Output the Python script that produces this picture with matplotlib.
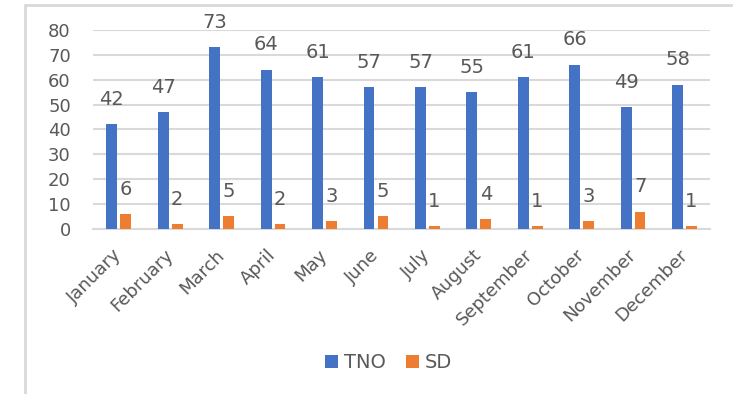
import numpy as np
import matplotlib.pyplot as plt
from matplotlib.patches import Rectangle
from matplotlib.transforms import ScaledTranslation

months = ["January", "February", "March", "April", "May", "June", "July",
          "August", "September", "October", "November", "December"]
tno = [42, 47, 73, 64, 61, 57, 57, 55, 61, 66, 49, 58]
sd = [6, 2, 5, 2, 3, 5, 1, 4, 1, 3, 7, 1]

blue = "#4472C4"
orange = "#ED7D31"
txt = "#595959"
grid = "#D9D9D9"

fig = plt.figure(figsize=(7.33, 3.94), dpi=100)
ax = fig.add_axes([0.127, 0.419, 0.842, 0.505])

x = np.arange(len(months))
w = 0.21
gap = 0.03
b1 = ax.bar(x - w / 2 - gap, tno, w, color=blue, label="TNO", zorder=3)
b2 = ax.bar(x + w / 2 + gap, sd, w, color=orange, label="SD", zorder=3)

for bars, vals in ((b1, tno), (b2, sd)):
    for r, v in zip(bars, vals):
        ax.annotate(str(v), (r.get_x() + r.get_width() / 2, r.get_height()),
                    xytext=(0, 11), textcoords="offset points",
                    ha="center", va="bottom", fontsize=14, color=txt)

ax.set_xlim(-0.5, len(months) - 0.5)
ax.set_ylim(0, 80)
ax.set_yticks(range(0, 81, 10))
ax.yaxis.grid(True, color=grid, linewidth=1.5, zorder=0)
ax.set_xticks(x)
ax.set_xticklabels(months, rotation=45, ha="right", va="center",
                   rotation_mode="anchor")
shift = ScaledTranslation(5 / 72, 0, fig.dpi_scale_trans)
for lab in ax.get_xticklabels():
    lab.set_transform(lab.get_transform() + shift)
ax.tick_params(axis="y", length=0, pad=16, labelsize=13, labelcolor=txt)
ax.tick_params(axis="x", length=0, pad=17, labelsize=13, labelcolor=txt)
for s in ["top", "right", "left"]:
    ax.spines[s].set_visible(False)
ax.spines["bottom"].set_color(grid)
ax.spines["bottom"].set_linewidth(1.5)

fig.legend(loc="center", bbox_to_anchor=(0.53, 0.079), ncol=2, frameon=False,
           handlelength=0.7, handleheight=0.7, columnspacing=1.0,
           handletextpad=0.3, fontsize=14, labelcolor=txt)

# outer chart border (cropped at right and bottom)
fig.patches.append(Rectangle((25 / 733, -0.1), 1.2, 1 - 5 / 394 + 0.1,
                             transform=fig.transFigure, fill=False,
                             edgecolor=grid, linewidth=2))

fig.savefig("out.png", dpi=100)
